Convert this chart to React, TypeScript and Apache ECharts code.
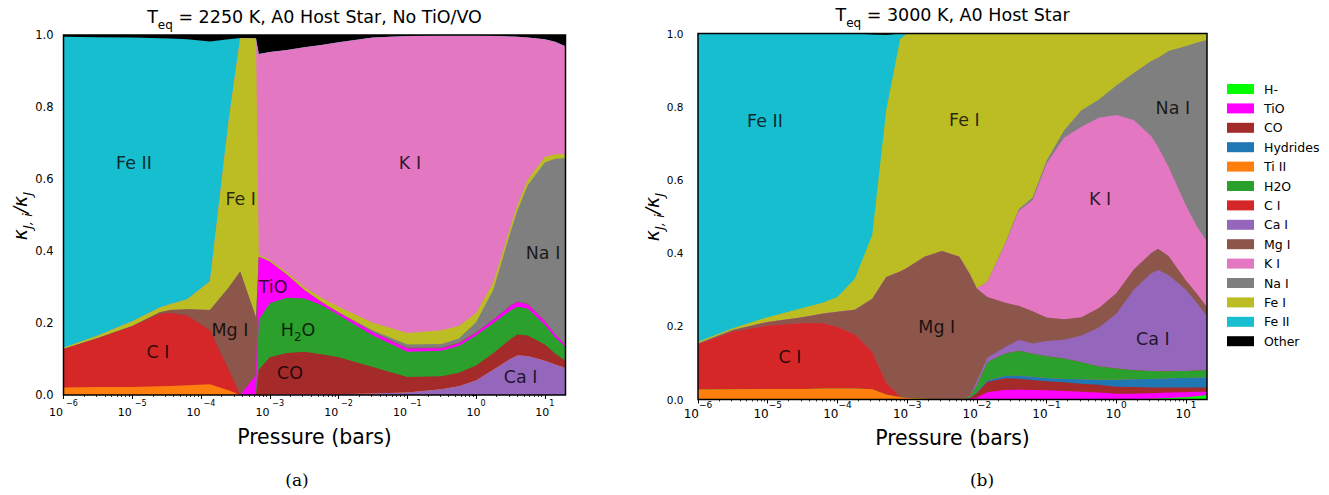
import { useEffect, useRef } from 'react';
import * as echarts from 'echarts';

// ---------- data ----------
// log10(pressure / bar) sample points
const P_A = [-6, -5.5, -5, -4.6, -4.45, -4.2, -3.87, -3.6, -3.43, -3.2, -3.16, -3, -2.75, -2.5, -2.25, -2, -1.5, -1, -0.5, -0.25, 0, 0.25, 0.5, 0.6, 0.75, 1, 1.15, 1.301];
const P_B = [-6, -5.5, -5, -4.5, -4.2, -4, -3.75, -3.5, -3.3, -3.1, -3, -2.75, -2.5, -2.25, -2.1, -2, -1.85, -1.6, -1.4, -1.2, -1, -0.75, -0.5, -0.25, 0, 0.25, 0.5, 0.6, 0.75, 1, 1.15, 1.301];

// Panel (a): T_eq = 2250 K, No TiO/VO  (stack order bottom -> top)
const A_CaI = [0, 0, 0, 0, 0, 0, 0, 0, 0, 0, 0, 0.002, 0.002, 0.002, 0.002, 0.002, 0.004, 0.007, 0.016, 0.024, 0.04, 0.07, 0.1, 0.11, 0.108, 0.095, 0.085, 0.075];
const A_TiII = [0.021, 0.022, 0.022, 0.024, 0.025, 0.027, 0.03, 0.013, 0, 0, 0, 0, 0, 0, 0, 0, 0, 0, 0, 0, 0, 0, 0, 0, 0, 0, 0, 0];
const A_CI = [0.106, 0.135, 0.168, 0.201, 0.203, 0.193, 0.15, 0.057, 0, 0, 0, 0, 0, 0, 0, 0, 0, 0, 0, 0, 0, 0, 0, 0, 0, 0, 0, 0];
const A_CO = [0, 0, 0, 0, 0, 0, 0, 0, 0, 0, 0.07, 0.103, 0.115, 0.118, 0.111, 0.103, 0.074, 0.043, 0.036, 0.038, 0.042, 0.046, 0.055, 0.058, 0.057, 0.045, 0.03, 0.02];
const A_H2O = [0, 0, 0, 0, 0, 0, 0, 0, 0, 0, 0.14, 0.15, 0.153, 0.148, 0.137, 0.117, 0.087, 0.07, 0.071, 0.074, 0.083, 0.083, 0.08, 0.077, 0.075, 0.055, 0.045, 0.039];
const A_TiO = [0, 0, 0, 0, 0, 0, 0, 0, 0, 0.055, 0.174, 0.115, 0.064, 0.024, 0.008, 0.007, 0.009, 0.009, 0.007, 0.007, 0.007, 0.009, 0.012, 0.013, 0.012, 0.01, 0.008, 0.005];
const A_MgI = [0.001, 0.001, 0.002, 0.005, 0.008, 0.018, 0.056, 0.228, 0.343, 0.16, 0, 0, 0, 0, 0, 0, 0.001, 0.002, 0.002, 0.002, 0.002, 0.002, 0.002, 0.002, 0.002, 0.001, 0.001, 0.001];
const A_NaI = [0, 0, 0, 0, 0, 0, 0, 0, 0, 0, 0, 0, 0, 0, 0, 0.001, 0.004, 0.009, 0.01, 0.012, 0.028, 0.082, 0.203, 0.252, 0.328, 0.44, 0.487, 0.518];
const A_FeI = [0.003, 0.007, 0.013, 0.013, 0.016, 0.028, 0.08, 0.462, 0.649, 0.775, 0.006, 0.005, 0.006, 0.008, 0.012, 0.015, 0.022, 0.032, 0.038, 0.035, 0.025, 0.02, 0.015, 0.015, 0.015, 0.015, 0.013, 0.011];
const A_KI = [0, 0, 0, 0, 0, 0, 0, 0, 0, 0, 0.557, 0.578, 0.618, 0.666, 0.702, 0.735, 0.792, 0.825, 0.819, 0.807, 0.772, 0.686, 0.529, 0.468, 0.396, 0.327, 0.312, 0.3];
const A_FeII = [0.864, 0.829, 0.788, 0.748, 0.738, 0.722, 0.666, 0.228, 0, 0, 0, 0, 0, 0, 0, 0, 0, 0, 0, 0, 0, 0, 0, 0, 0, 0, 0, 0];
const A_Other = [0.005, 0.006, 0.007, 0.009, 0.01, 0.012, 0.018, 0.012, 0.008, 0.01, 0.053, 0.047, 0.042, 0.034, 0.028, 0.02, 0.008, 0.005, 0.003, 0.003, 0.003, 0.004, 0.006, 0.007, 0.009, 0.013, 0.02, 0.032];

// Panel (b): T_eq = 3000 K  (stack order bottom -> top)
const B_Hm = [0, 0, 0, 0, 0, 0, 0, 0, 0, 0, 0, 0, 0, 0, 0, 0, 0, 0, 0, 0, 0, 0, 0, 0, 0, 0.001, 0.002, 0.003, 0.004, 0.006, 0.009, 0.012];
const B_TiO = [0, 0, 0, 0, 0, 0, 0, 0, 0, 0, 0, 0, 0, 0, 0.002, 0.005, 0.02, 0.026, 0.027, 0.026, 0.025, 0.023, 0.021, 0.019, 0.016, 0.015, 0.015, 0.015, 0.015, 0.014, 0.012, 0.009];
const B_CO = [0, 0, 0, 0, 0, 0, 0, 0, 0, 0, 0, 0, 0, 0, 0.002, 0.013, 0.028, 0.032, 0.03, 0.027, 0.025, 0.024, 0.022, 0.021, 0.019, 0.018, 0.016, 0.015, 0.014, 0.013, 0.012, 0.012];
const B_Hyd = [0, 0, 0, 0, 0, 0, 0, 0, 0, 0, 0, 0, 0, 0, 0, 0.002, 0.004, 0.006, 0.008, 0.009, 0.009, 0.009, 0.012, 0.014, 0.019, 0.021, 0.023, 0.024, 0.025, 0.026, 0.027, 0.027];
const B_TiII = [0.027, 0.028, 0.029, 0.029, 0.03, 0.03, 0.03, 0.028, 0.014, 0.006, 0.004, 0.002, 0.001, 0, 0, 0, 0, 0, 0, 0, 0, 0, 0, 0, 0, 0, 0, 0, 0, 0, 0, 0];
const B_H2O = [0, 0, 0, 0, 0, 0, 0, 0, 0, 0, 0, 0, 0, 0, 0.004, 0.018, 0.05, 0.061, 0.068, 0.063, 0.059, 0.056, 0.047, 0.036, 0.031, 0.025, 0.022, 0.02, 0.019, 0.019, 0.019, 0.02];
const B_CI = [0.124, 0.157, 0.173, 0.18, 0.178, 0.168, 0.148, 0.102, 0.031, 0.002, 0, 0, 0, 0, 0, 0, 0, 0, 0, 0, 0, 0, 0, 0, 0, 0, 0, 0, 0, 0, 0, 0];
const B_CaI = [0, 0, 0, 0, 0, 0, 0, 0, 0, 0, 0, 0, 0, 0, 0.002, 0.012, 0.012, 0.018, 0.03, 0.028, 0.042, 0.051, 0.073, 0.107, 0.149, 0.22, 0.267, 0.277, 0.263, 0.222, 0.186, 0.148];
const B_MgI = [0.002, 0.005, 0.01, 0.016, 0.027, 0.042, 0.067, 0.145, 0.29, 0.342, 0.356, 0.388, 0.405, 0.39, 0.332, 0.253, 0.166, 0.122, 0.093, 0.088, 0.064, 0.056, 0.05, 0.053, 0.056, 0.055, 0.055, 0.058, 0.052, 0.025, 0.025, 0.025];
const B_KI = [0, 0, 0, 0, 0, 0, 0, 0, 0, 0, 0, 0, 0, 0, 0, 0, 0.041, 0.157, 0.259, 0.304, 0.421, 0.496, 0.52, 0.52, 0.487, 0.409, 0.32, 0.278, 0.243, 0.205, 0.185, 0.178];
const B_NaI = [0, 0, 0, 0, 0, 0, 0, 0, 0, 0, 0, 0, 0, 0, 0, 0, 0.001, 0.002, 0.005, 0.007, 0.007, 0.02, 0.045, 0.05, 0.081, 0.128, 0.205, 0.244, 0.317, 0.436, 0.5, 0.551];
const B_FeI = [0.005, 0.005, 0.013, 0.025, 0.03, 0.04, 0.085, 0.175, 0.456, 0.635, 0.64, 0.61, 0.594, 0.61, 0.658, 0.697, 0.678, 0.576, 0.48, 0.448, 0.348, 0.265, 0.21, 0.18, 0.142, 0.108, 0.075, 0.066, 0.048, 0.034, 0.025, 0.018];
const B_FeII = [0.842, 0.805, 0.775, 0.75, 0.735, 0.72, 0.67, 0.547, 0.205, 0.015, 0, 0, 0, 0, 0, 0, 0, 0, 0, 0, 0, 0, 0, 0, 0, 0, 0, 0, 0, 0, 0, 0];
const B_Other = [0, 0, 0, 0, 0, 0, 0, 0.003, 0.004, 0, 0, 0, 0, 0, 0, 0, 0, 0, 0, 0, 0, 0, 0, 0, 0, 0, 0, 0, 0, 0, 0, 0];

const SERIES_A: [string, number[]][] = [
  ['Ca I', A_CaI], ['Ti II', A_TiII], ['C I', A_CI], ['CO', A_CO], ['H2O', A_H2O], ['TiO', A_TiO],
  ['Mg I', A_MgI], ['Na I', A_NaI], ['Fe I', A_FeI], ['K I', A_KI], ['Fe II', A_FeII], ['Other', A_Other],
];
const SERIES_B: [string, number[]][] = [
  ['H-', B_Hm], ['TiO', B_TiO], ['CO', B_CO], ['Hydrides', B_Hyd], ['Ti II', B_TiII], ['H2O', B_H2O],
  ['C I', B_CI], ['Ca I', B_CaI], ['Mg I', B_MgI], ['K I', B_KI], ['Na I', B_NaI], ['Fe I', B_FeI],
  ['Fe II', B_FeII], ['Other', B_Other],
];

const LEGEND_NAMES = ['H-', 'TiO', 'CO', 'Hydrides', 'Ti II', 'H2O', 'C I', 'Ca I', 'Mg I', 'K I', 'Na I', 'Fe I', 'Fe II', 'Other'];

// in-plot annotations: [log10 P, fraction, text]
const LABELS_A: [number, number, string][] = [
  [-4.975, 0.644, 'Fe II'], [-3.423, 0.544, 'Fe I'], [-3.579, 0.181, 'Mg I'], [-4.626, 0.119, 'C I'],
  [-2.953, 0.3, 'TiO'], [-0.961, 0.644, 'K I'], [-2.589, 0.181, 'H2O'], [-2.705, 0.061, 'CO'],
  [0.974, 0.394, 'Na I'], [0.649, 0.05, 'Ca I'],
];
const LABELS_B: [number, number, string][] = [
  [-5.039, 0.762, 'Fe II'], [-4.68, 0.116, 'C I'], [-2.179, 0.765, 'Fe I'], [0.811, 0.796, 'Na I'],
  [-0.232, 0.549, 'K I'], [-2.575, 0.198, 'Mg I'], [0.524, 0.164, 'Ca I'],
];

const MAJOR_TICKS = [-6, -5, -4, -3, -2, -1, 0, 1];
const MINOR_MULT = [2, 3, 4, 5, 6, 7, 8, 9];
const Y_TICKS = [0, 0.2, 0.4, 0.6, 0.8, 1.0];

// ---------- styling ----------
const COLORS: Record<string, string> = {
  'H-': '#00ff00', TiO: '#ff00ff', CO: '#a52a2a', Hydrides: '#1f77b4', 'Ti II': '#ff7f0e',
  H2O: '#2ca02c', 'C I': '#d62728', 'Ca I': '#9467bd', 'Mg I': '#8c564b', 'K I': '#e377c2',
  'Na I': '#7f7f7f', 'Fe I': '#bcbd22', 'Fe II': '#17becf', Other: '#000000',
};
const FONT = 'DejaVu Sans';
const XMAX = Math.log10(20);
const GRID_A = { left: 63.5, top: 35, width: 502, height: 360 };
const GRID_B = { left: 698, top: 33.5, width: 509, height: 366 };

function minorTicks(): number[] {
  const out: number[] = [];
  for (let d = -6; d <= 0; d++) for (const k of MINOR_MULT) out.push(d + Math.log10(k));
  return out;
}

function xAxes(gridIndex: number, left: boolean) {
  const rich = {
    b: { fontSize: left ? 11 : 12, lineHeight: 19, verticalAlign: 'bottom', fontFamily: FONT, color: '#000' },
    s: { fontSize: left ? 8 : 9, lineHeight: 10, verticalAlign: 'top', fontFamily: FONT, color: '#000' },
    g: { width: 3, fontSize: 7 },
  };
  return [
    {
      gridIndex, type: 'value', min: -6, max: XMAX, position: 'bottom',
      axisLine: { show: false }, splitLine: { show: false },
      axisTick: { show: true, inside: false, length: 4, customValues: MAJOR_TICKS, lineStyle: { color: '#000', width: 1 } },
      axisLabel: {
        show: true, customValues: MAJOR_TICKS, margin: left ? 4 : 1,
        formatter: (v: number) => {
          const r = Math.round(v);
          if (r < 0) return left ? `{b|10}{g| }{s|−${-r}}` : `{b|10}{s|−${-r}}`;
          return `{b|10}{s|${r}}`;
        },
        rich,
      },
    },
    {
      gridIndex, type: 'value', min: -6, max: XMAX, position: 'bottom',
      axisLine: { show: false }, splitLine: { show: false }, axisLabel: { show: false },
      axisTick: { show: true, inside: false, length: 2, customValues: minorTicks(), lineStyle: { color: '#000', width: 0.8 } },
    },
  ];
}

function yAxis(gridIndex: number, margin: number, fontSize: number) {
  return {
    gridIndex, type: 'value', min: 0, max: 1, interval: 0.2,
    axisLine: { show: false }, splitLine: { show: false },
    axisTick: { show: true, inside: false, length: 4, customValues: Y_TICKS, lineStyle: { color: '#000', width: 1 } },
    axisLabel: {
      margin, fontSize, fontFamily: FONT, color: '#000',
      customValues: Y_TICKS,
      formatter: (v: number) => v.toFixed(1),
    },
  };
}

// Stacked areas: each layer is drawn as the area under its cumulative top,
// drawn from the top layer down so lower layers cover the upper ones.
function stackSeries(list: [string, number[]][], xs: number[], xIdx: number, yIdx: number) {
  const tops: number[][] = [];
  let run = xs.map(() => 0);
  for (const [, vals] of list) {
    run = run.map((r, i) => r + vals[i]);
    tops.push(run);
  }
  const out: any[] = [];
  for (let k = list.length - 1; k >= 0; k--) {
    const name = list[k][0];
    out.push({
      type: 'line', name, xAxisIndex: xIdx, yAxisIndex: yIdx,
      data: xs.map((x, i) => [x, tops[k][i]]),
      symbol: 'none', showSymbol: false, silent: true,
      lineStyle: { width: 0, opacity: 0 },
      itemStyle: { color: COLORS[name] },
      areaStyle: { color: COLORS[name], opacity: 1, origin: 'start' },
      z: 2,
    });
  }
  return out;
}

const labelRich = {
  n: { fontSize: 17.5, fontFamily: FONT, color: '#000', lineHeight: 22 },
  u: { fontSize: 12, fontFamily: FONT, color: '#000', lineHeight: 26, verticalAlign: 'bottom' },
};

function labelSeries(list: [number, number, string][], xIdx: number, yIdx: number) {
  return {
    type: 'scatter', xAxisIndex: xIdx, yAxisIndex: yIdx, silent: true, z: 10,
    symbolSize: 1, itemStyle: { color: 'rgba(0,0,0,0)' },
    data: list.map(([x, y, t]) => ({ value: [x, y], name: t })),
    label: {
      show: true, position: 'inside',
      formatter: (p: any) => (p.name === 'H2O' ? '{n|H}{u|2}{n|O}' : `{n|${p.name}}`),
      rich: labelRich,
    },
  };
}

const titleRich = {
  n: { fontSize: 17.5, fontFamily: FONT, fill: '#000', lineHeight: 22 },
  sub: { fontSize: 12, fontFamily: FONT, fill: '#000', lineHeight: 27, verticalAlign: 'bottom' },
};
const kappaRich = {
  k: { fontSize: 19, fontStyle: 'italic', fontFamily: FONT, fill: '#000', lineHeight: 23 },
  s: { fontSize: 13, fontStyle: 'italic', fontFamily: FONT, fill: '#000', lineHeight: 28, verticalAlign: 'bottom' },
};

export default function App() {
  const ref = useRef<HTMLDivElement>(null);
  useEffect(() => {
    const chart = echarts.init(ref.current!, null, { renderer: 'svg' });
    const option: any = {
      animation: false,
      backgroundColor: '#ffffff',
      grid: [
        { ...GRID_A, containLabel: false, outerBoundsMode: 'none' },
        { ...GRID_B, containLabel: false, outerBoundsMode: 'none' },
      ],
      xAxis: [...xAxes(0, true), ...xAxes(1, false)].map((a, i) => ({
        ...a,
        ...(i === 0 || i === 2 ? {
          name: 'Pressure (bars)', nameLocation: 'middle', nameGap: i === 0 ? 31 : 28,
          nameTextStyle: { fontSize: 20.5, fontFamily: FONT, color: '#000' },
        } : {}),
      })),
      yAxis: [yAxis(0, 10, 11.5), yAxis(1, 14.5, 10.5)],
      legend: {
        show: true, orient: 'vertical', left: 1222, top: 77,
        itemWidth: 27, itemHeight: 10, itemGap: 5.4, selectedMode: false,
        data: LEGEND_NAMES.map((n) => ({ name: n, icon: 'rect', itemStyle: { color: COLORS[n] } })),
        textStyle: { fontSize: 12.5, lineHeight: 14, color: '#000', fontFamily: FONT, padding: [0, 0, 0, 5] },
      },
      series: [
        ...stackSeries(SERIES_A, P_A, 0, 0),
        ...stackSeries(SERIES_B, P_B, 2, 1),
        labelSeries(LABELS_A, 0, 0),
        labelSeries(LABELS_B, 2, 1),
      ],
      graphic: [
        {
          type: 'text', x: GRID_A.left + GRID_A.width / 2, y: 17, silent: true,
          style: { text: '{n|T}{sub|eq}{n| = 2250 K, A0 Host Star, No TiO/VO}', rich: titleRich, align: 'center', verticalAlign: 'middle' },
        },
        {
          type: 'text', x: GRID_B.left + GRID_B.width / 2, y: 15, silent: true,
          style: { text: '{n|T}{sub|eq}{n| = 3000 K, A0 Host Star}', rich: titleRich, align: 'center', verticalAlign: 'middle' },
        },
        {
          type: 'text', x: 20, y: 216, rotation: Math.PI / 2, silent: true,
          style: { text: '{k|κ}{s|J, i}{k|/κ}{s|J}', rich: kappaRich, align: 'center', verticalAlign: 'middle' },
        },
        {
          type: 'text', x: 652, y: 217, rotation: Math.PI / 2, silent: true,
          style: { text: '{k|κ}{s|J, i}{k|/κ}{s|J}', rich: kappaRich, align: 'center', verticalAlign: 'middle' },
        },
        {
          type: 'text', x: 297, y: 480, silent: true,
          style: { text: '(a)', fontSize: 17, fontFamily: 'DejaVu Serif', fill: '#000', align: 'center', verticalAlign: 'middle' },
        },
        {
          type: 'text', x: 982, y: 480, silent: true,
          style: { text: '(b)', fontSize: 17, fontFamily: 'DejaVu Serif', fill: '#000', align: 'center', verticalAlign: 'middle' },
        },
        {
          type: 'rect', z: 100, silent: true,
          shape: { x: GRID_A.left, y: GRID_A.top, width: GRID_A.width, height: GRID_A.height },
          style: { fill: 'none', stroke: '#000', lineWidth: 1.5 },
        },
        {
          type: 'rect', z: 100, silent: true,
          shape: { x: GRID_B.left, y: GRID_B.top, width: GRID_B.width, height: GRID_B.height },
          style: { fill: 'none', stroke: '#000', lineWidth: 1.5 },
        },
      ],
    };
    chart.setOption(option);
    return () => chart.dispose();
  }, []);
  return (
    <div
      ref={ref}
      style={{ position: 'fixed', left: 0, top: 0, width: 1329, height: 495, background: '#fff' }}
    />
  );
}
